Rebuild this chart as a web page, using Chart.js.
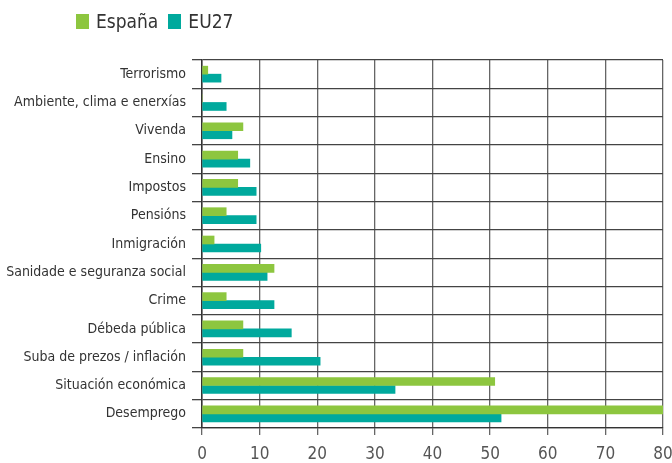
<!DOCTYPE html>
<html>
<head>
<meta charset="utf-8">
<script src="https://cdn.jsdelivr.net/npm/chart.js@4/dist/chart.umd.min.js"></script>
<style>
  html, body { margin: 0; padding: 0; background: #fff; }
  .wrap { position: relative; width: 672px; height: 463px; }
  .legend { position: absolute; left: 76px; top: 10px; font: 19px 'Liberation Sans Narrow', 'DejaVu Sans Condensed', sans-serif; color: #333; display: flex; align-items: center; }
  .legend span.box { display: inline-block; width: 13px; height: 15px; margin-right: 7px; }
  .legend span.item { display: flex; align-items: center; margin-right: 10px; }
</style>
</head>
<body>
<div class="wrap">
  <div class="legend" id="legend"></div>
  <canvas id="chart" width="672" height="463"></canvas>
</div>
<script>
const categories = [
  'Terrorismo', 'Ambiente, clima e enerxías', 'Vivenda', 'Ensino', 'Impostos', 'Pensións',
  'Inmigración', 'Sanidade e seguranza social', 'Crime', 'Débeda pública',
  'Suba de prezos / inflación', 'Situación económica', 'Desemprego'
];
const espana = [1.0, 0, 7.1, 6.2, 6.2, 4.2, 2.1, 12.5, 4.2, 7.1, 7.1, 50.8, 80.5];
const eu27 = [3.3, 4.2, 5.2, 8.3, 9.4, 9.4, 10.2, 11.3, 12.5, 15.5, 20.5, 33.5, 51.9];
const xTicks = [0, 10, 20, 30, 40, 50, 60, 70, 80];

const seriesNames = ['España', 'EU27'];
const colors = ['#8dc63f', '#00a99d'];
const font = "'Liberation Sans Narrow', 'DejaVu Sans Condensed', sans-serif";

// html legend
const legend = document.getElementById('legend');
seriesNames.forEach((name, i) => {
  const item = document.createElement('span');
  item.className = 'item';
  item.innerHTML = '<span class="box" style="background:' + colors[i] + '"></span>' + name;
  legend.appendChild(item);
});

new Chart(document.getElementById('chart').getContext('2d'), {
  type: 'bar',
  data: {
    labels: categories,
    datasets: [
      { label: seriesNames[0], data: espana, backgroundColor: colors[0], barThickness: 8 },
      { label: seriesNames[1], data: eu27, backgroundColor: colors[1], barThickness: 8 }
    ]
  },
  options: {
    indexAxis: 'y',
    responsive: false,
    animation: false,
    layout: { padding: { top: 60, right: 9, left: 0, bottom: 0 } },
    plugins: { legend: { display: false }, tooltip: { enabled: false } },
    scales: {
      x: {
        min: 0,
        max: 80,
        afterBuildTicks: (scale) => { scale.ticks = xTicks.map(v => ({ value: v })); },
        afterFit: (scale) => { scale.height = 35; scale.paddingRight = 0; scale.paddingLeft = 0; },
        grid: { color: '#666', lineWidth: 1.3, tickLength: 7 },
        border: { color: '#333', width: 1.3 },
        ticks: { color: '#555', font: { family: font, size: 17 }, padding: 9, maxRotation: 0 }
      },
      y: {
        offset: true,
        afterFit: (scale) => { scale.width = 202; },
        grid: { offset: true, color: '#444', lineWidth: 1.3, tickLength: 10 },
        border: { color: '#333', width: 1.5 },
        ticks: { color: '#333', font: { family: font, size: 14 }, padding: 6, autoSkip: false }
      }
    }
  }
});
</script>
</body>
</html>
